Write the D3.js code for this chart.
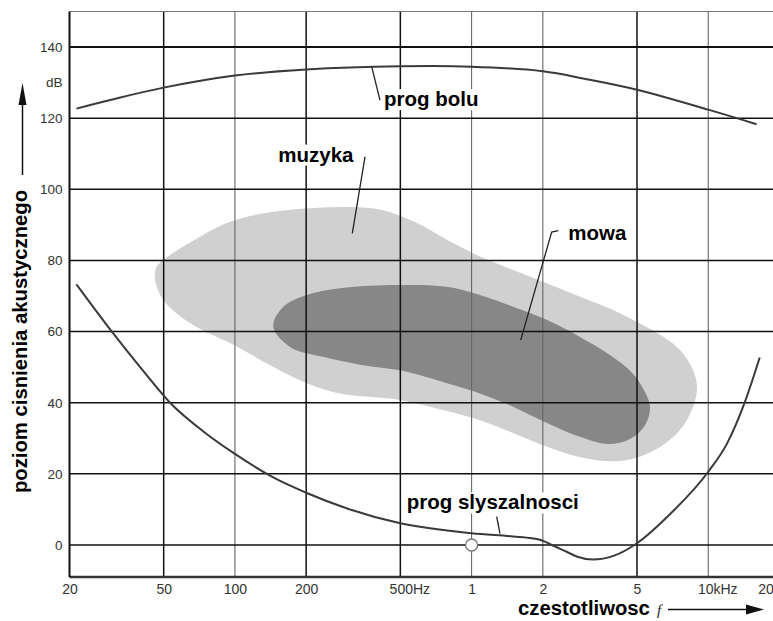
<!DOCTYPE html>
<html><head><meta charset="utf-8">
<script src="https://cdn.jsdelivr.net/npm/d3@7"></script>
<style>html,body{margin:0;padding:0;background:#fff}</style>
</head><body>
<svg id="c" width="773" height="621"></svg>
<script>
// ---- data ----
const xTickValues = [20, 50, 100, 200, 500, 1000, 2000, 5000, 10000, 20000];
const xTickLabels = ["20", "50", "100", "200", "500Hz", "1", "2", "5", "10kHz", "20"];
const xGridValues = [50, 100, 200, 500, 1000, 2000, 5000, 10000];
const yTickValues = [0, 20, 40, 60, 80, 100, 120, 140];

// pain threshold (prog bolu)
const painFreq = [21.4, 30, 50, 100, 200, 500, 1000, 2000, 3000, 5000, 10000, 16000];
const painDb   = [122.7, 125.2, 128.6, 132, 133.7, 134.6, 134.5, 133.2, 131.1, 128, 122.4, 118.3];

// hearing threshold (prog slyszalnosci)
const hearFreq = [21.4, 30.2, 40, 53.2, 75, 100, 150, 200, 300, 500, 1000, 1500, 1800, 2000, 2150, 2520, 2800, 3250, 4000, 5000, 6850, 10000, 12000, 14300, 16500];
const hearDb   = [73.3, 60, 49.8, 40, 31.5, 25.6, 18.5, 14.7, 10.2, 6.1, 3.3, 2.4, 1.9, 1.2, 0.2, -1.9, -3.3, -4.1, -3.0, 0.5, 8.5, 20.6, 28.5, 40.3, 52.7];

// music region (muzyka) outline
const musicFreq = [46.0, 46.7, 54.7, 71.2, 90.8, 115.8, 155, 197.8, 306.4, 418, 576.6, 787, 1085, 1496, 2076, 2871, 3958, 5148, 6438, 7597, 8620, 8962, 8620, 7597, 5844, 4236, 2871, 2082, 1496, 1085, 787, 498, 278, 201, 144.8, 101.8, 64.6, 49.8];
const musicDb   = [74.5, 78.2, 82.1, 86.7, 90.3, 92.5, 93.9, 94.6, 95.0, 94.2, 90.8, 85.8, 81.1, 77.3, 73.6, 69.8, 66.1, 62.3, 58.6, 54.8, 49.2, 44.4, 38.8, 32.3, 26.4, 23.6, 24.7, 27.6, 31.5, 35.1, 37.7, 40.8, 42.6, 45.5, 50.1, 55.8, 62.4, 68.9];

// speech region (mowa) outline
const speechFreq = [145.2, 160.2, 201, 278, 498, 785, 1085, 1496, 2076, 2871, 3844, 4762, 5404, 5675, 5404, 4670, 3770, 2871, 2082, 1496, 1085, 787, 498, 337.7, 235.6, 170.9];
const speechDb   = [61.4, 67.0, 70.3, 72.2, 73.1, 72.6, 70.3, 67.0, 63.3, 58.5, 53.4, 48.4, 43.0, 38.8, 33.7, 29.8, 28.4, 30.4, 34.3, 38.9, 42.6, 45.5, 49.1, 50.7, 52.9, 55.7];

// annotation labels: text, anchor (freq, dB), leader polyline (freq, dB)
const labelTexts  = ["prog bolu", "muzyka", "mowa", "prog slyszalnosci"];
const labelFreq   = [426.6, 152.5, 2562, 532];
const labelDb     = [123.4, 107.8, 85.8, 10.0];
const leaderFreq  = [[378.4, 410], [354.6, 313.3], [2324, 2180, 1612], [1277, 1318]];
const leaderDb    = [[134.5, 125.1], [109.2, 87.6], [88.4, 88.0, 57.6], [7.95, 3.2]];

// reference point 1 kHz / 0 dB
const refFreq = [1000];
const refDb = [0];

// ---- chart ----
const svg = d3.select("#c");
const x = d3.scaleLog().domain([20, 20000]).range([69.5, 779.5]);
const y = d3.scaleLinear().domain([-9, 150]).range([577, 11.5]);
const right = 773;
const FONT = "Liberation Sans, Arial, sans-serif";

// blobs
const blobLine = d3.line().x(d => x(d[0])).y(d => y(d[1])).curve(d3.curveCatmullRomClosed.alpha(0.5));
svg.append("path").attr("d", blobLine(musicFreq.map((f, i) => [f, musicDb[i]]))).attr("fill", "#d0d0d0");
svg.append("path").attr("d", blobLine(speechFreq.map((f, i) => [f, speechDb[i]]))).attr("fill", "#878787");

// grid
const gridDark = new Set([50, 200, 500, 5000]);
svg.append("g").selectAll("line").data(xGridValues).join("line")
  .attr("x1", d => x(d)).attr("x2", d => x(d))
  .attr("y1", y(150)).attr("y2", y(-9))
  .attr("stroke", d => gridDark.has(d) ? "#111" : "#666")
  .attr("stroke-width", d => gridDark.has(d) ? 1.5 : 1.1);
svg.append("g").selectAll("line").data(yTickValues).join("line")
  .attr("x1", x(20)).attr("x2", right)
  .attr("y1", d => y(d)).attr("y2", d => y(d))
  .attr("stroke", "#111")
  .attr("stroke-width", d => d === 140 ? 2 : 1.5);
svg.append("line").attr("x1", x(20)).attr("x2", right).attr("y1", y(150)).attr("y2", y(150))
  .attr("stroke", "#777").attr("stroke-width", 1);

// axes
const xAxis = d3.axisBottom(x).tickValues(xTickValues)
  .tickFormat((d, i) => xTickLabels[i]).tickSize(0).tickPadding(7);
const gx = svg.append("g").attr("transform", `translate(0,${y(-9)})`).call(xAxis);
gx.select(".domain").remove();
gx.selectAll("text").attr("font-family", FONT)
  .attr("font-size", 14).attr("fill", "#333")
  .attr("dx", (d, i) => xTickLabels[i].includes("Hz") ? 9 : (i === xTickLabels.length - 1 ? -14 : 0));
svg.append("line").attr("x1", x(20)).attr("x2", right).attr("y1", y(-9)).attr("y2", y(-9))
  .attr("stroke", "#333").attr("stroke-width", 2.5);

const yAxis = d3.axisLeft(y).tickValues(yTickValues).tickSize(0).tickPadding(7);
const gy = svg.append("g").attr("transform", `translate(${x(20)},0)`).call(yAxis);
gy.select(".domain").remove();
gy.selectAll("text").attr("font-family", FONT)
  .attr("font-size", 13.5).attr("fill", "#333");
svg.append("text").attr("x", x(20) - 7).attr("y", y(130)).attr("dy", "0.35em")
  .attr("text-anchor", "end").attr("font-family", FONT)
  .attr("font-size", 13.5).attr("fill", "#333").text("dB");
svg.append("line").attr("x1", x(20)).attr("x2", x(20)).attr("y1", y(150)).attr("y2", y(-9))
  .attr("stroke", "#111").attr("stroke-width", 2);

// curves
const painLine = d3.line().x(d => x(d[0])).y(d => y(d[1])).curve(d3.curveCatmullRom.alpha(0.5));
const hearLine = d3.line().x(d => x(d[0])).y(d => y(d[1])).curve(d3.curveMonotoneX);
svg.append("path").attr("d", painLine(painFreq.map((f, i) => [f, painDb[i]])))
  .attr("fill", "none").attr("stroke", "#3a3a3a").attr("stroke-width", 2);
svg.append("path").attr("d", hearLine(hearFreq.map((f, i) => [f, hearDb[i]])))
  .attr("fill", "none").attr("stroke", "#3a3a3a").attr("stroke-width", 2);

// reference circle
svg.selectAll("circle.ref").data(refFreq).join("circle").attr("class", "ref")
  .attr("cx", d => x(d)).attr("cy", (d, i) => y(refDb[i])).attr("r", 6)
  .attr("fill", "#fff").attr("stroke", "#777").attr("stroke-width", 1.3);

// annotations
const leaderLine = d3.line().x(d => x(d[0])).y(d => y(d[1]));
labelTexts.forEach((t, i) => {
  const g = svg.append("g");
  const txt = g.append("text").attr("x", x(labelFreq[i])).attr("y", y(labelDb[i]))
    .attr("font-family", FONT).attr("font-weight", "bold")
    .attr("font-size", 20.5).attr("fill", "#000").text(t);
  const bb = txt.node().getBBox();
  g.insert("rect", "text").attr("x", bb.x - 2).attr("y", bb.y + 2).attr("width", bb.width + 4).attr("height", bb.height - 2)
    .attr("fill", "#fff");
  svg.append("path").attr("d", leaderLine(leaderFreq[i].map((f, j) => [f, leaderDb[i][j]])))
    .attr("fill", "none").attr("stroke", "#222").attr("stroke-width", 1.3);
});

// axis titles
svg.append("text").attr("transform", "translate(27,341.5) rotate(-90)")
  .attr("text-anchor", "middle").attr("font-family", FONT)
  .attr("font-weight", "bold").attr("font-size", 20.3).attr("fill", "#000")
  .text("poziom cisnienia akustycznego");
svg.append("line").attr("x1", 22.5).attr("x2", 22.5).attr("y1", 175).attr("y2", 100)
  .attr("stroke", "#111").attr("stroke-width", 1.5);
svg.append("path").attr("d", "M18.5,105 L22.5,83 L26.5,105 Z").attr("fill", "#111");

svg.append("text").attr("x", 518).attr("y", 614.5)
  .attr("font-family", FONT)
  .attr("font-weight", "bold").attr("font-size", 20.3).attr("fill", "#000")
  .text("czestotliwosc");
svg.append("text").attr("x", 657).attr("y", 614.5)
  .attr("font-family", "Liberation Serif, serif").attr("font-style", "italic")
  .attr("font-size", 15).attr("fill", "#222").text("f");
svg.append("line").attr("x1", 668).attr("x2", 750).attr("y1", 609.5).attr("y2", 609.5)
  .attr("stroke", "#111").attr("stroke-width", 1.3);
svg.append("path").attr("d", "M746,604.5 L764,609.5 L746,614.5 Z").attr("fill", "#111");
</script>
</body></html>
